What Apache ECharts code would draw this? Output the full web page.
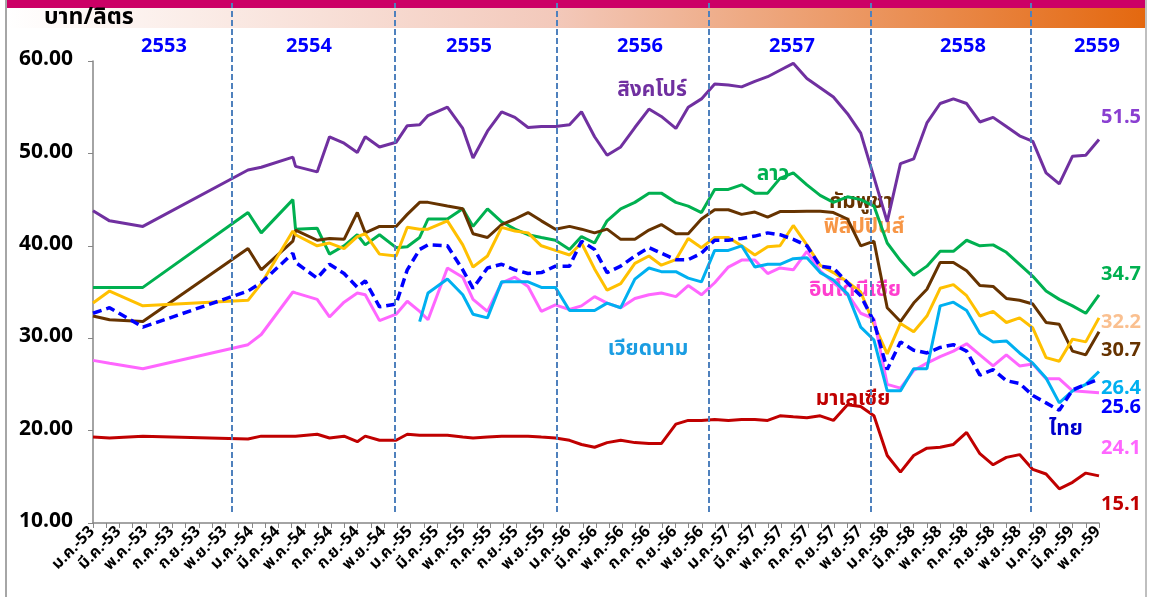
<!DOCTYPE html>
<html>
<head>
<meta charset="utf-8">
<script src="https://cdn.jsdelivr.net/npm/echarts@6/dist/echarts.min.js"></script>
<style>
html,body{margin:0;padding:0;background:#fff;}
#main{width:1152px;height:597px;}
</style>
</head>
<body>
<div id="main"></div>
<script>
// วันที่เก็บราคา (ไม่ได้ห่างเท่ากันทุกจุด)
var dates = ['2010-01-01','2010-02-08','2010-04-24','2010-12-23',
  '2011-01-23','2011-04-04','2011-04-10','2011-05-30','2011-06-27','2011-07-31','2011-08-31','2011-09-18','2011-10-21','2011-11-28','2011-12-24',
  '2012-01-22','2012-02-10','2012-03-25','2012-04-29','2012-05-23','2012-06-25','2012-07-28','2012-08-28','2012-09-27','2012-10-28','2012-11-29',
  '2013-01-01','2013-01-29','2013-02-26','2013-03-27','2013-04-27','2013-05-30','2013-07-01','2013-07-30','2013-09-02','2013-09-30','2013-10-31','2013-11-30',
  '2014-01-01','2014-02-01','2014-03-01','2014-03-31','2014-04-28','2014-05-29','2014-06-29','2014-07-30','2014-08-30','2014-10-01','2014-11-01','2014-12-01',
  '2015-01-01','2015-02-01','2015-03-01','2015-04-01','2015-05-01','2015-06-01','2015-07-01','2015-08-01','2015-09-01','2015-10-01','2015-11-01','2015-12-01',
  '2016-01-01','2016-02-01','2016-03-01','2016-04-01','2016-05-01'];

var singapore = [43.8,42.7,42.1,48.2,48.5,49.6,48.6,48.0,51.8,51.1,
  50.1,51.8,50.7,51.2,53.0,53.1,54.1,55.0,52.7,49.5,
  52.4,54.5,53.9,52.8,52.9,52.9,53.1,54.5,51.8,49.8,
  50.7,52.8,54.8,54.0,52.7,55.0,55.9,57.5,57.4,57.2,
  57.8,58.3,59.0,59.75,58.1,57.1,56.1,54.3,52.2,47.4,
  42.6,48.9,49.4,53.3,55.4,55.9,55.4,53.4,53.9,52.9,
  51.9,51.3,47.9,46.7,49.7,49.8,51.5];
var laos = [35.5,35.5,35.5,43.6,41.4,45.0,41.8,41.9,39.1,40.0,
  41.2,40.1,41.2,39.8,39.9,40.9,42.9,42.9,44.0,42.1,
  44.0,42.6,41.8,41.2,40.9,40.6,39.6,41.0,40.3,42.7,
  44.0,44.7,45.7,45.7,44.7,44.3,43.6,46.1,46.1,46.6,
  45.7,45.7,47.3,47.9,46.6,45.45,44.7,45.3,45.0,44.3,
  40.3,38.4,36.8,37.8,39.4,39.4,40.6,40.0,40.1,39.3,
  38.0,36.7,35.1,34.2,33.5,32.7,34.7];
var cambodia = [32.4,32.0,31.8,39.7,37.4,40.5,41.7,40.6,40.8,40.7,
  43.6,41.4,42.1,42.1,43.4,44.7,44.7,44.3,44.0,41.3,
  40.9,42.3,42.9,43.6,42.7,41.8,42.1,41.8,41.4,41.8,
  40.7,40.7,41.7,42.3,41.3,41.3,42.9,43.9,43.9,43.4,
  43.65,43.1,43.7,43.7,43.75,43.75,43.6,42.9,40.0,40.5,
  33.3,31.8,33.8,35.3,38.2,38.2,37.3,35.7,35.6,34.3,
  34.1,33.7,31.7,31.5,28.6,28.2,30.7];
var philippines = [33.8,35.1,33.5,34.1,35.9,41.6,41.2,40.0,40.3,39.7,
  41.0,41.3,39.1,38.9,42.0,41.8,41.8,42.7,40.1,37.7,
  38.9,42.0,41.6,41.4,40.0,39.5,39.0,40.3,37.5,35.2,
  35.9,38.1,38.9,37.9,38.5,40.8,39.8,40.9,40.9,40.0,
  39.0,39.9,40.0,42.2,40.1,37.9,37.1,36.1,35.0,31.5,
  28.3,31.6,30.7,32.4,35.4,35.8,34.6,32.4,32.9,31.7,
  32.2,31.1,27.9,27.5,29.9,29.6,32.2];
var thailand = [32.7,33.3,31.2,35.1,36.0,39.2,38.2,36.5,38.0,37.0,
  35.5,36.2,33.4,33.7,37.4,39.6,40.1,40.0,37.4,35.4,
  37.6,38.0,37.4,37.0,37.1,37.8,37.8,40.5,39.6,37.1,
  37.8,38.9,39.8,39.2,38.5,38.5,39.2,40.6,40.6,40.8,
  41.05,41.4,41.2,40.7,40.0,37.8,37.6,36.0,34.6,31.8,
  26.6,29.6,28.7,28.4,29.0,29.3,28.6,26.0,26.6,25.4,
  25.1,23.8,23.0,22.2,24.4,25.0,25.6];
var vietnam = [null,null,null,null,null,null,null,null,null,null,
  null,null,null,null,null,31.8,34.9,36.4,34.7,32.6,
  32.2,36.1,36.1,36.1,35.5,35.5,33.0,33.0,33.0,33.8,
  33.3,36.4,37.6,37.2,37.2,36.5,36.1,39.5,39.5,40.0,
  37.7,38.0,38.0,38.6,38.7,37.1,36.3,34.8,31.2,29.8,
  24.3,24.3,26.7,26.7,33.5,33.9,33.0,30.5,29.6,29.7,
  28.4,27.3,25.7,23.0,24.3,25.0,26.4];
var indonesia = [27.6,27.3,26.7,29.3,30.4,35.0,34.9,34.2,32.3,33.9,
  34.9,34.7,31.9,32.6,34.0,32.9,32.0,37.6,36.6,34.2,
  32.9,36.0,36.6,35.6,32.9,33.6,33.1,33.5,34.5,33.8,
  33.3,34.3,34.7,34.9,34.5,35.7,34.7,36.0,37.7,38.45,
  38.45,37.0,37.6,37.4,39.4,37.3,36.0,34.8,32.7,32.1,
  25.0,24.6,26.5,27.3,28.0,28.6,29.4,28.2,27.0,28.2,
  27.0,27.2,25.6,25.6,24.3,24.2,24.1];
var malaysia = [19.3,19.2,19.4,19.1,19.4,19.4,19.4,19.6,19.2,19.4,
  18.8,19.4,18.95,18.95,19.6,19.5,19.5,19.5,19.3,19.2,
  19.3,19.4,19.4,19.4,19.3,19.2,18.95,18.5,18.2,18.7,
  18.95,18.7,18.6,18.6,20.7,21.1,21.1,21.2,21.1,21.2,
  21.2,21.1,21.6,21.5,21.4,21.6,21.1,22.8,22.6,21.6,
  17.3,15.5,17.3,18.1,18.2,18.5,19.8,17.5,16.3,17.1,
  17.4,15.8,15.3,13.7,14.4,15.4,15.1];

var xTickLabels = ['ม.ค.-53','มี.ค.-53','พ.ค.-53','ก.ค.-53','ก.ย.-53','พ.ย.-53',
  'ม.ค.-54','มี.ค.-54','พ.ค.-54','ก.ค.-54','ก.ย.-54','พ.ย.-54',
  'ม.ค.-55','มี.ค.-55','พ.ค.-55','ก.ค.-55','ก.ย.-55','พ.ย.-55',
  'ม.ค.-56','มี.ค.-56','พ.ค.-56','ก.ค.-56','ก.ย.-56','พ.ย.-56',
  'ม.ค.-57','มี.ค.-57','พ.ค.-57','ก.ค.-57','ก.ย.-57','พ.ย.-57',
  'ม.ค.-58','มี.ค.-58','พ.ค.-58','ก.ค.-58','ก.ย.-58','พ.ย.-58',
  'ม.ค.-59','มี.ค.-59','พ.ค.-59'];
var yearLabels = ['2553','2554','2555','2556','2557','2558','2559'];
var yearBreaks = [10.45, 22.81, 35.05, 46.54, 58.75, 70.88]; // เส้นแบ่งปี (หน่วยเดือน)

var FONT = 'Tahoma, "Noto Sans Thai", "Leelawadee UI", "DejaVu Sans", sans-serif';

// แปลงวันที่เป็นตำแหน่งเดือนนับจาก ม.ค.-53
function monthPos(s){
  var p = s.split('-');
  var y = +p[0], m = +p[1], d = +p[2];
  var dim = new Date(y, m, 0).getDate();
  return (y-2010)*12 + (m-1) + (d-1)/dim;
}
function toData(arr){
  var out = [];
  for(var i=0;i<arr.length;i++){
    if(arr[i] !== null) out.push([monthPos(dates[i]), arr[i]]);
  }
  return out;
}

var lines = [
  {name:'สิงคโปร์', data:singapore, color:'#7030a0'},
  {name:'ลาว', data:laos, color:'#00b050'},
  {name:'กัมพูชา', data:cambodia, color:'#663300'},
  {name:'ฟิลิปปินส์', data:philippines, color:'#ffc000'},
  {name:'อินโดนีเซีย', data:indonesia, color:'#ff66ff'},
  {name:'เวียดนาม', data:vietnam, color:'#00b0f0'},
  {name:'มาเลเซีย', data:malaysia, color:'#c00000'},
  {name:'ไทย', data:thailand, color:'#0000ff', dash:[9,5]}
];

// ชื่อประเทศในกราฟ
var nameTags = [
  {t:'สิงคโปร์', x:652, y:92, c:'#7030a0'},
  {t:'ลาว', x:773, y:176, c:'#00b050'},
  {t:'กัมพูชา', x:861, y:204, c:'#663300'},
  {t:'ฟิลิปปินส์', x:864, y:229, c:'#f79646'},
  {t:'อินโดนีเซีย', x:855, y:292, c:'#ff3fcf'},
  {t:'เวียดนาม', x:648, y:351, c:'#1b9de2'},
  {t:'มาเลเซีย', x:853, y:401, c:'#c00000'},
  {t:'ไทย', x:1066, y:431, c:'#0000cc'}
];
// ค่าล่าสุดด้านขวา
var endTags = [
  {arr:singapore, y:119, c:'#8a3fd1'},
  {arr:laos, y:276, c:'#00b050'},
  {arr:philippines, y:324, c:'#fac090'},
  {arr:cambodia, y:352, c:'#663300'},
  {arr:vietnam, y:390, c:'#00b0f0'},
  {arr:thailand, y:409, c:'#0000ff'},
  {arr:indonesia, y:450, c:'#ff66ff'},
  {arr:malaysia, y:506, c:'#c00000'}
];
var yearX = [164, 309, 469, 640, 792, 963, 1097];

var graphics = [
  {type:'rect', shape:{x:6,y:0,width:1140,height:8}, style:{fill:'#cc0066'}, z:-10},
  {type:'rect', shape:{x:6,y:8,width:1140,height:20}, z:-10,
    style:{fill:new echarts.graphic.LinearGradient(0,0,1,0,[
      {offset:0,color:'#ffffff'},{offset:0.48,color:'#f3c9bb'},{offset:1,color:'#e4680f'}])}},
  {type:'line', shape:{x1:6,y1:0,x2:6,y2:597}, style:{stroke:'#a6a6a6', lineWidth:2}},
  {type:'line', shape:{x1:1146,y1:0,x2:1146,y2:597}, style:{stroke:'#bfbfbf', lineWidth:2}},
  {type:'text', x:44, y:19, style:{text:'บาท/ลิตร', font:'bold 23px '+FONT, fill:'#000', textVerticalAlign:'middle'}}
];
yearLabels.forEach(function(t,i){
  graphics.push({type:'text', x:yearX[i], y:48, style:{text:t, font:'bold 20px '+FONT, fill:'#0000ff', textAlign:'center', textVerticalAlign:'middle'}});
});
nameTags.forEach(function(n){
  graphics.push({type:'text', x:n.x, y:n.y, style:{text:n.t, font:'bold 21px '+FONT, fill:n.c, textAlign:'center', textVerticalAlign:'middle'}});
});
endTags.forEach(function(e){
  graphics.push({type:'text', x:1101, y:e.y, style:{text:e.arr[e.arr.length-1].toFixed(1), font:'bold 20px '+FONT, fill:e.c, textAlign:'left', textVerticalAlign:'middle'}});
});

var series = lines.map(function(l){
  return {
    name:l.name, type:'line', data:toData(l.data),
    xAxisIndex:0, yAxisIndex:0,
    symbol:'none', smooth:false,
    lineStyle:{color:l.color, width:l.dash ? 3.5 : 3, type:l.dash || 'solid'},
    itemStyle:{color:l.color},
    z:3
  };
});
// เส้นแบ่งปี
series.push({
  type:'line', xAxisIndex:1, yAxisIndex:1, data:[], symbol:'none', silent:true,
  markLine:{silent:true, symbol:['none','none'], label:{show:false},
    lineStyle:{color:'#4f81bd', width:2, type:[6,3]},
    data:yearBreaks.map(function(v){return {xAxis:v};})}
});

var myChart = echarts.init(document.getElementById('main'));
var option = {
  animation:false,
  backgroundColor:'#fff',
  textStyle:{fontFamily:FONT},
  graphic:graphics,
  grid:[
    {left:93, right:53, top:61, bottom:74, outerBoundsMode:'none'},
    {left:93, right:53, top:3, bottom:85, outerBoundsMode:'none'}
  ],
  xAxis:[{
    type:'value', gridIndex:0, min:0, max:76, interval:1,
    axisLine:{show:true, lineStyle:{color:'#868686', width:1.5}},
    axisTick:{show:true, length:5, lineStyle:{color:'#868686'}},
    splitLine:{show:false},
    axisLabel:{rotate:45, margin:7, fontSize:16, fontWeight:'bold', color:'#000', fontFamily:FONT,
      formatter:function(v){ return (v%2===0 && xTickLabels[v/2]) ? xTickLabels[v/2] : ''; }}
  },{
    type:'value', gridIndex:1, min:0, max:76, show:false
  }],
  yAxis:[{
    type:'value', gridIndex:0, min:10, max:60, interval:10,
    axisLine:{show:true, lineStyle:{color:'#868686', width:1.5}},
    axisTick:{show:true, length:5, lineStyle:{color:'#868686'}},
    splitLine:{show:false},
    axisLabel:{margin:20, fontSize:21, fontWeight:'bold', color:'#000', fontFamily:FONT,
      formatter:function(v){return v.toFixed(2);}}
  },{
    type:'value', gridIndex:1, min:0, max:1, show:false
  }],
  series:series
};
myChart.setOption(option);
</script>
</body>
</html>
